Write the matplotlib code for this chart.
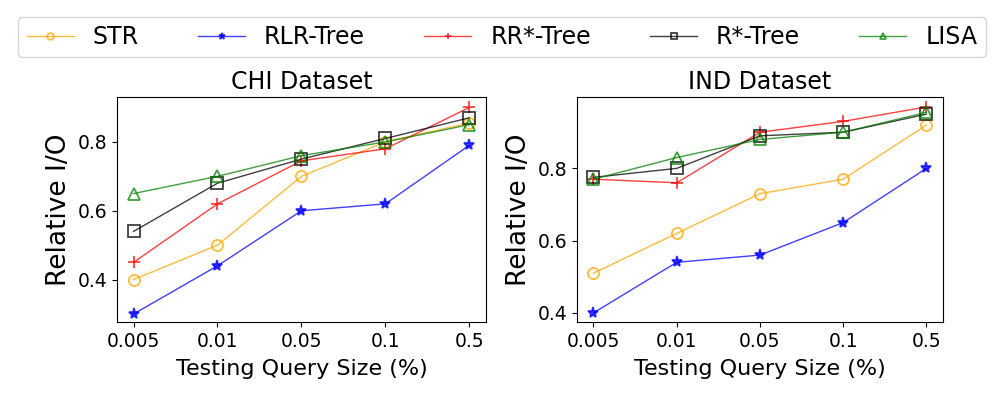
import numpy as np
import matplotlib
matplotlib.use('Agg')
import matplotlib.pyplot as plt

sizes = ["0.005", "0.01", "0.05", "0.1", "0.5"]
methods = ["STR", "RLR-Tree", "RR*-Tree", "R*-Tree", "LISA"]

chi_str = [0.40, 0.50, 0.70, 0.80, 0.855]
chi_rlr = [0.30, 0.44, 0.60, 0.62, 0.79]
chi_rrs = [0.45, 0.62, 0.745, 0.78, 0.90]
chi_rs = [0.54, 0.68, 0.75, 0.81, 0.87]
chi_lisa = [0.65, 0.70, 0.76, 0.80, 0.85]

ind_str = [0.51, 0.62, 0.73, 0.77, 0.92]
ind_rlr = [0.40, 0.54, 0.56, 0.65, 0.80]
ind_rrs = [0.77, 0.76, 0.90, 0.93, 0.97]
ind_rs = [0.775, 0.80, 0.89, 0.90, 0.95]
ind_lisa = [0.77, 0.83, 0.88, 0.90, 0.955]

styles = [
    dict(color="orange", marker="o", mfc="none"),
    dict(color="blue", marker="*"),
    dict(color="red", marker="+"),
    dict(color="black", marker="s", mfc="none"),
    dict(color="green", marker="^", mfc="none"),
]

fig = plt.figure(figsize=(9.98, 3.95), dpi=100)
ax1 = fig.add_axes([0.117, 0.185, 0.370, 0.569])
ax2 = fig.add_axes([0.578, 0.185, 0.367, 0.569])

x = np.arange(len(sizes))
panels = [
    (ax1, "CHI Dataset", [chi_str, chi_rlr, chi_rrs, chi_rs, chi_lisa], (0.277, 0.93), [0.4, 0.6, 0.8]),
    (ax2, "IND Dataset", [ind_str, ind_rlr, ind_rrs, ind_rs, ind_lisa], (0.375, 0.997), [0.4, 0.6, 0.8]),
]
for ax, title, series, ylim, yt in panels:
    for name, ys, st in zip(methods, series, styles):
        ax.plot(x, ys, label=name, linewidth=1, alpha=0.75, markersize=8,
                markeredgewidth=1.3, **st)
    ax.set_xticks(x)
    ax.set_xticklabels(sizes, fontsize=13.5)
    ax.set_yticks(yt)
    ax.tick_params(axis='y', labelsize=13.5)
    ax.set_xlim(-0.2, 4.2)
    ax.set_ylim(*ylim)
    ax.set_title(title, fontsize=17, pad=6)
    ax.set_xlabel("Testing Query Size (%)", fontsize=16, labelpad=6)
    ax.set_ylabel("Relative I/O", fontsize=19, labelpad=4)

h, l = ax1.get_legend_handles_labels()
fig.legend(h, l, loc="upper center", bbox_to_anchor=(0.503, 0.97), ncol=5,
           fontsize=17, markerscale=0.6, columnspacing=2.5, handlelength=2.0,
           borderaxespad=0.2, borderpad=0.35)

fig.savefig("out.png", dpi=100)
